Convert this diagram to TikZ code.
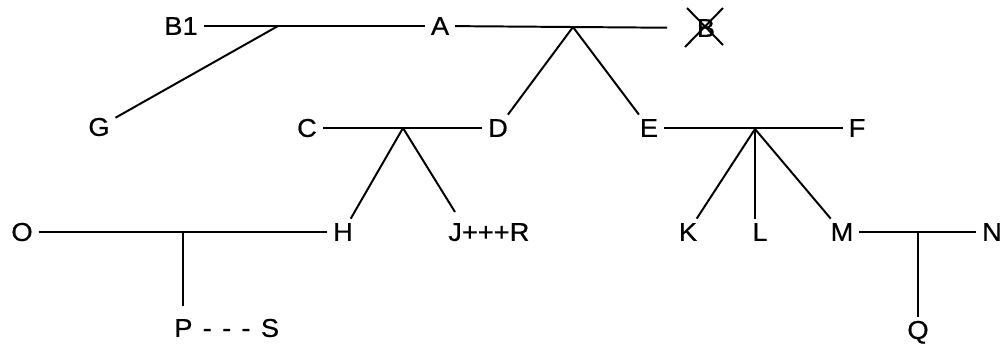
\documentclass[tikz,border=0pt]{standalone}
\usepackage{fontspec}
\setmainfont[FakeStretch=1.06, FakeBold=0.6]{Liberation Sans}
\begin{document}
\begin{tikzpicture}[x=0.025cm, y=-0.025cm,
  lbl/.style={inner xsep=4pt, inner ysep=3pt, text height=12.6pt, text depth=0pt,
              font=\fontsize{18.3}{21}\selectfont},
  tie/.style={line width=1.4pt}]
\useasboundingbox (0,0) rectangle (1000,345);

% top row
\node[lbl] (B1) at (181,26) {B1};
\node[lbl] (A)  at (440,26) {A};
\node[lbl, inner xsep=21pt] (Bx) at (706,28) {B};
\coordinate (jBA) at (278,26);
\coordinate (jAB) at (573,27);

% cross over B
\draw[tie] ([shift={(-19,-20)}]Bx.center) -- ([shift={(17,17)}]Bx.center);
\draw[tie] ([shift={(17,-20)}]Bx.center) -- ([shift={(-21,19)}]Bx.center);

% second row
\node[lbl] (G) at (99,127) {G};
\node[lbl] (C) at (307,128) {C};
\node[lbl] (D) at (498,128) {D};
\node[lbl] (E) at (649,128) {E};
\node[lbl] (F) at (857,128) {F};
\coordinate (jCD) at (403,128);
\coordinate (jEF) at (755,129);

% third row
\node[lbl] (O) at (22,232) {O};
\node[lbl] (H) at (343,232) {H};
\node[lbl, anchor=west, inner xsep=0pt] (JR) at (448,232) {J+++R};
\coordinate (Jtop) at (455,212);
\node[lbl] (K) at (688,232) {K};
\node[lbl] (L) at (760,232) {L};
\node[lbl] (M) at (842,232) {M};
\node[lbl] (N) at (992,232) {N};
\coordinate (jOH) at (183,232);
\coordinate (jMN) at (918,233);

% bottom row
\node[lbl, anchor=west, inner xsep=0pt] (PS) at (174,328) {\spaceskip=0.4em P - - - S};
\coordinate (Ptop) at (183,306);
\node[lbl] (Q) at (918,330) {Q};

% connectors
\draw[tie] (B1) -- (A);
\draw[tie] (A) -- (Bx);
\draw[tie] (jBA) -- (G);
\draw[tie] (jAB) -- (D);
\draw[tie] (jAB) -- (E);
\draw[tie] (C) -- (D);
\draw[tie] (jCD) -- (H);
\draw[tie] (jCD) -- (Jtop);
\draw[tie] (E) -- (F);
\draw[tie] (jEF) -- (K);
\draw[tie] (jEF) -- (jEF |- L.north);
\draw[tie] (jEF) -- (M);
\draw[tie] (O) -- (H);
\draw[tie] (jOH) -- (Ptop);
\draw[tie] (M) -- (N);
\draw[tie] (jMN) -- (jMN |- Q.north);
\end{tikzpicture}
\end{document}
